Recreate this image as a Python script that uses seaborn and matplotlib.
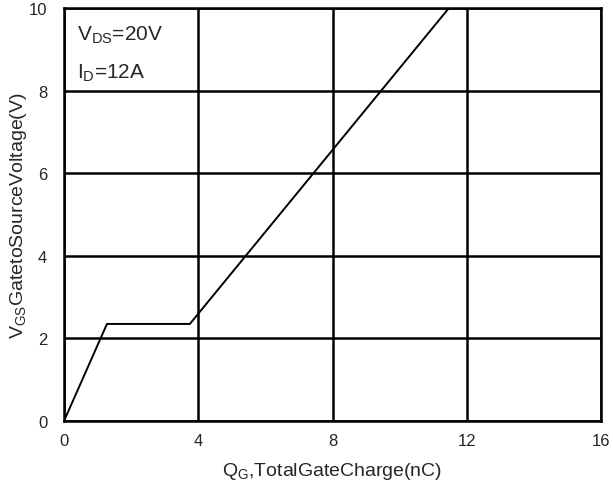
import matplotlib
matplotlib.use("Agg")
import matplotlib.pyplot as plt
import seaborn as sns
import pandas as pd

# Gate charge curve breakpoints
qg_nc = [0.0, 1.28, 3.75, 11.47]
vgs_v = [0.0, 2.35, 2.35, 10.0]

x_ticks = [0, 4, 8, 12, 16]
y_ticks = [0, 2, 4, 6, 8, 10]

sns.set_theme(style="white")
plt.rcParams["font.family"] = ["Liberation Sans", "DejaVu Sans"]
plt.rcParams["mathtext.fontset"] = "custom"
plt.rcParams["mathtext.rm"] = "Liberation Sans"
plt.rcParams["mathtext.it"] = "Liberation Sans"

df = pd.DataFrame({"Qg": qg_nc, "Vgs": vgs_v})

fig = plt.figure(figsize=(6.13, 4.81), dpi=100)
ax = fig.add_axes([64 / 613, 1 - 422 / 481, (601 - 64) / 613, (422 - 9) / 481])

sns.lineplot(data=df, x="Qg", y="Vgs", ax=ax, color="black", linewidth=1.4,
             sort=False, estimator=None)

ax.set_xlim(0, 16)
ax.set_ylim(0, 10)
ax.set_xticks(x_ticks)
ax.set_yticks(y_ticks)
ax.set_xticklabels([str(t) for t in x_ticks], fontsize=12)
ax.set_yticklabels([str(t) for t in y_ticks], fontsize=12)
ax.tick_params(axis="x", length=0, pad=9)
ax.tick_params(axis="y", length=0, pad=12)
ax.grid(True, color="black", linewidth=1.8)
for s in ax.spines.values():
    s.set_color("black")
    s.set_linewidth(1.8)

ax.set_xlabel(r"Q$_{\mathrm{G}}$,TotalGateCharge(nC)", fontsize=14, labelpad=8)
ax.set_ylabel(r"V$_{\mathrm{GS}}$GatetoSourceVoltage(V)", fontsize=14, labelpad=0)

ax.text(0.4, 9.35, r"V$_{\mathrm{DS}}$=20V", fontsize=15, va="center", ha="left")
ax.text(0.4, 8.45, r"I$_{\mathrm{D}}$=12A", fontsize=15, va="center", ha="left")

fig.savefig("out.png", dpi=100)
